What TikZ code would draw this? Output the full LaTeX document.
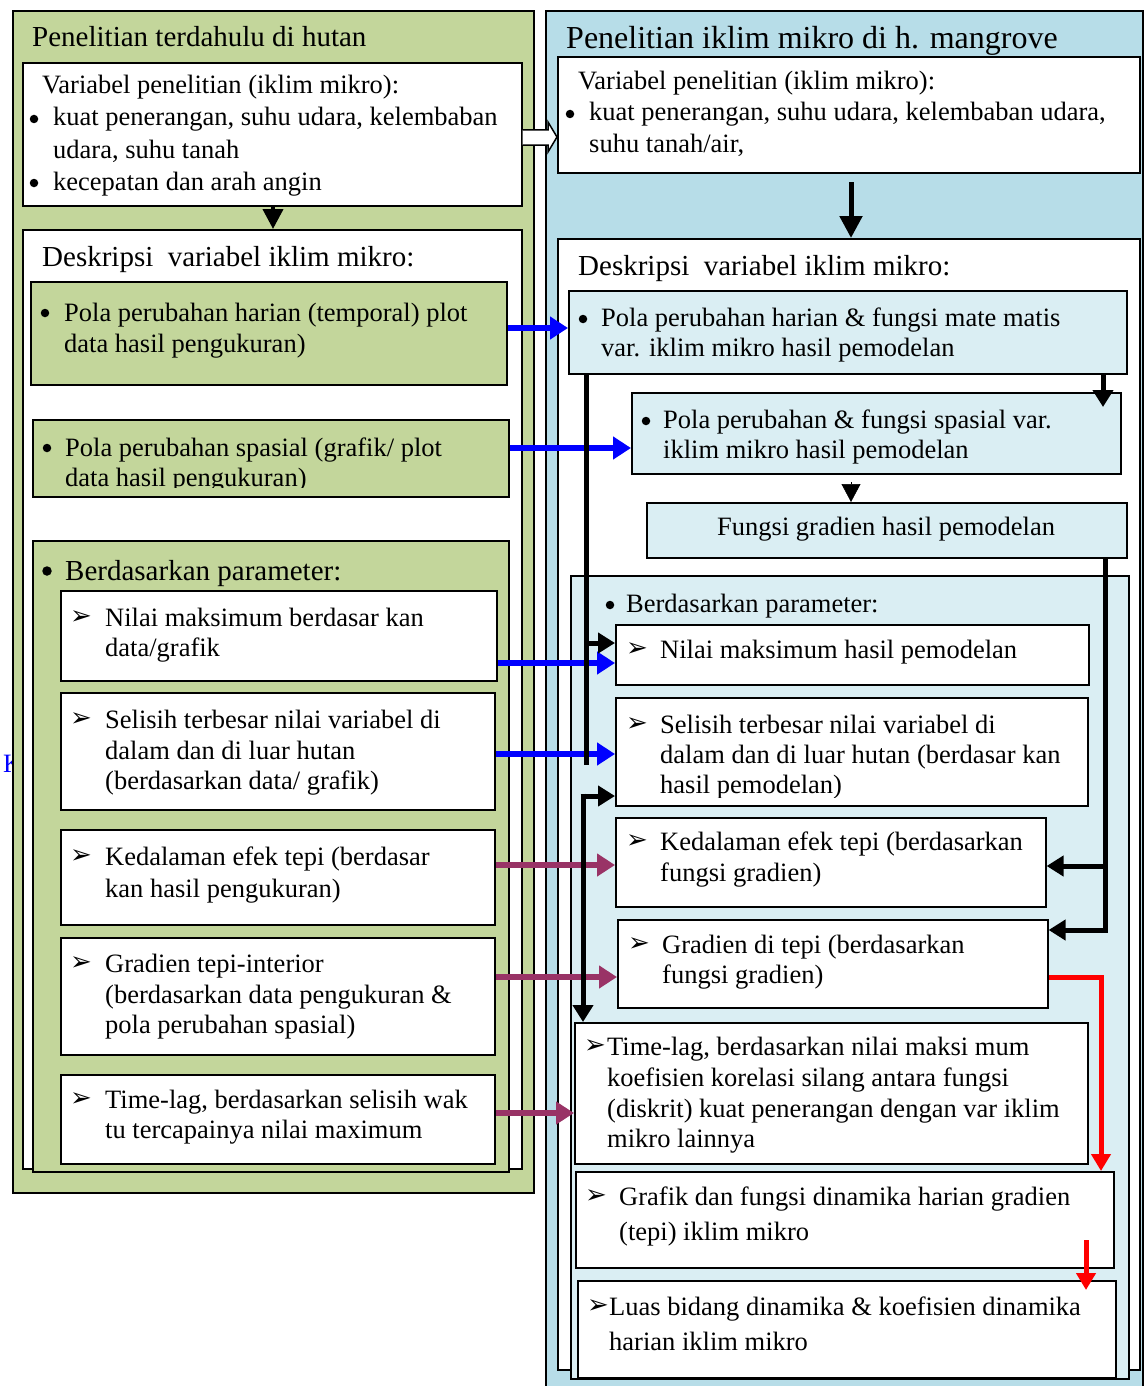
\documentclass[tikz,border=0pt]{standalone}
\usepackage{fontspec}
\setmainfont{Liberation Serif}
\newfontfamily\dejavu{DejaVu Sans}
\usetikzlibrary{arrows.meta}
\definecolor{grn}{HTML}{C3D69B}
\definecolor{pblue}{HTML}{B7DDE8}
\definecolor{lblue}{HTML}{DAEEF3}
\definecolor{plum}{HTML}{993366}
\newcommand\bodyf{\fontsize{26.5}{31}\selectfont}
\newcommand\headf{\fontsize{29}{34}\selectfont}
\newcommand\titf{\fontsize{32}{37}\selectfont}
\newcommand\myarr{\raisebox{2pt}{\dejavu\fontsize{26}{26}\selectfont ➢}}
\newcommand\mybox[6]{\node[#1,anchor=north west,minimum width={#4-#2},minimum height={#5-#3}] (#6) at (#2,#3) {};}
\newcommand\mytx[4]{\node[txt] (#1) at (#2,#3) {#4};}
\newcommand\mybul[3]{\node[bul] (#1) at (#2,#3) {};}
\begin{document}
\begin{tikzpicture}[x=1pt,y=-1pt,
  txt/.style={anchor=base west,inner sep=0pt,font=\bodyf},
  bul/.style={circle,fill=black,inner sep=0pt,minimum size=8.5pt},
  grnbox/.style={draw=black,fill=grn,line width=1.6pt,inner sep=0pt},
  whbox/.style={draw=black,fill=white,line width=1.6pt,inner sep=0pt},
  lbbox/.style={draw=black,fill=lblue,line width=1.6pt,inner sep=0pt},
  pbox/.style={draw=black,fill=pblue,line width=1.6pt,inner sep=0pt},
  bluearr/.style={draw=blue,line width=6pt,-{Triangle[length=18pt,width=22pt]}},
  plumarr/.style={draw=plum,line width=6pt,-{Triangle[length=18pt,width=22pt]}},
  blkln/.style={draw=black,line width=5pt},
  blkarr/.style={draw=black,line width=5pt,-{Triangle[length=17pt,width=20pt]}},
  redarr/.style={draw=red,line width=5pt,-{Triangle[length=17pt,width=19pt]}}]
\useasboundingbox[fill=white] (0,0) rectangle (1145,1386);

\node[txt,text=blue] (strayK) at (3,772) {K};

% ---------------- left panel
\mybox{grnbox}{12}{10}{533}{1192}{Lpanel}
\node[txt,font=\headf] (Ltitle) at (32,47) {Penelitian terdahulu di hutan};
\mybox{whbox}{22}{62}{521}{205}{L1}
\begin{scope}
\clip (22,62) rectangle (521,195);
\mytx{L1a}{42}{94}{Variabel penelitian (iklim mikro):}
\mybul{L1p}{34}{119}
\mytx{L1b}{53}{126}{kuat penerangan, suhu udara, kelembaban}
\mytx{L1c}{53}{158}{udara, suhu tanah}
\mybul{L1q}{34}{183}
\mytx{L1d}{53}{190}{kecepatan dan arah angin}
\end{scope}
\mybox{whbox}{22}{229}{521}{1168}{L2}
\node[txt,font=\headf] (L2t) at (42,266) {Deskripsi~ variabel iklim mikro:};

\mybox{grnbox}{30}{281}{506}{384}{G1}
\mybul{G1p}{45}{313}
\mytx{G1a}{64}{321}{Pola perubahan harian (temporal) plot}
\mytx{G1b}{64}{352}{data hasil pengukuran)}

\mybox{grnbox}{32}{419}{508}{496}{G2}
\begin{scope}
\clip (32,419) rectangle (508,487);
\mybul{G2p}{47}{448}
\mytx{G2a}{65}{456}{Pola perubahan spasial (grafik/ plot}
\mytx{G2b}{65}{486}{data hasil pengukuran)}
\end{scope}

\mybox{grnbox}{32}{540}{508}{1171}{G3}
\node[bul,minimum size=9.5pt] (G3p) at (47,571) {};
\node[txt,font=\headf] (G3t) at (65,580) {Berdasarkan parameter:};

\mybox{whbox}{60}{590}{496}{680}{W1}
\mytx{W1m}{70}{626}{\myarr}
\mytx{W1a}{105}{626}{Nilai maksimum berdasar kan}
\mytx{W1b}{105}{656}{data/grafik}

\mybox{whbox}{60}{692}{494}{809}{W2}
\mytx{W2m}{70}{728}{\myarr}
\mytx{W2a}{105}{728}{Selisih terbesar nilai variabel di}
\mytx{W2b}{105}{759}{dalam dan di luar hutan}
\mytx{W2c}{105}{789}{(berdasarkan data/ grafik)}

\mybox{whbox}{60}{829}{494}{924}{W3}
\mytx{W3m}{70}{865}{\myarr}
\mytx{W3a}{105}{865}{Kedalaman efek tepi (berdasar}
\mytx{W3b}{105}{897}{kan hasil pengukuran)}

\mybox{whbox}{60}{937}{494}{1054}{W4}
\mytx{W4m}{70}{972}{\myarr}
\mytx{W4a}{105}{972}{Gradien tepi-interior}
\mytx{W4b}{105}{1003}{(berdasarkan data pengukuran \&}
\mytx{W4c}{105}{1033}{pola perubahan spasial)}

\mybox{whbox}{60}{1074}{494}{1163}{W5}
\mytx{W5m}{70}{1108}{\myarr}
\mytx{W5a}{105}{1108}{Time-lag, berdasarkan selisih wak}
\mytx{W5b}{105}{1138}{tu tercapainya nilai maximum}

% ---------------- right panel
\mybox{pbox}{545}{10}{1142}{1400}{Rpanel}
\node[txt,font=\titf] (Rtitle) at (566,49) {Penelitian iklim mikro di h. mangrove};
\mybox{whbox}{557}{56}{1139}{172}{R1}
\mytx{R1a}{578}{90}{Variabel penelitian (iklim mikro):}
\mybul{R1p}{570}{114}
\mytx{R1b}{589}{121}{kuat penerangan, suhu udara, kelembaban udara,}
\mytx{R1c}{589}{152}{suhu tanah/air,}

\mybox{whbox}{557}{238}{1139}{1369}{R2}
\node[txt,font=\headf] (R2t) at (578,275) {Deskripsi~ variabel iklim mikro:};

\mybox{lbbox}{568}{290}{1126}{373}{B1}
\mybul{B1p}{583}{319}
\mytx{B1a}{601}{326}{Pola perubahan harian \& fungsi mate matis}
\mytx{B1b}{601}{356}{var. iklim mikro hasil pemodelan}

\mybox{lbbox}{631}{392}{1120}{473}{B2}
\mybul{B2p}{646}{421}
\mytx{B2a}{663}{428}{Pola perubahan \& fungsi spasial var.}
\mytx{B2b}{663}{458}{iklim mikro hasil pemodelan}

\mybox{lbbox}{646}{502}{1126}{557}{B3}
\mytx{B3a}{717}{535}{Fungsi gradien hasil pemodelan}

\mybox{lbbox}{570}{575}{1128}{1378}{B4}
\mybul{B4p}{610}{605}
\mytx{B4a}{626}{612}{Berdasarkan parameter:}

\mybox{whbox}{615}{624}{1088}{684}{N1}
\mytx{N1m}{626}{658}{\myarr}
\mytx{N1a}{660}{658}{Nilai maksimum hasil pemodelan}

\mybox{whbox}{615}{697}{1087}{805}{N2}
\begin{scope}
\clip (615,697) rectangle (1087,797);
\mytx{N2m}{626}{733}{\myarr}
\mytx{N2a}{660}{733}{Selisih terbesar nilai variabel di}
\mytx{N2b}{660}{763}{dalam dan di luar hutan (berdasar kan}
\mytx{N2c}{660}{793}{hasil pemodelan)}
\end{scope}

\mybox{whbox}{615}{817}{1045}{906}{N3}
\mytx{N3m}{626}{850}{\myarr}
\mytx{N3a}{660}{850}{Kedalaman efek tepi (berdasarkan}
\mytx{N3b}{660}{881}{fungsi gradien)}

\mybox{whbox}{617}{919}{1047}{1007}{N4}
\mytx{N4m}{628}{953}{\myarr}
\mytx{N4a}{662}{953}{Gradien di tepi (berdasarkan}
\mytx{N4b}{662}{983}{fungsi gradien)}

\mybox{whbox}{574}{1022}{1087}{1163}{N5}
\mytx{N5m}{584}{1055}{\myarr}
\mytx{N5a}{607}{1055}{Time-lag, berdasarkan nilai maksi mum}
\mytx{N5b}{607}{1086}{koefisien korelasi silang antara fungsi}
\mytx{N5c}{607}{1117}{(diskrit) kuat penerangan dengan var iklim}
\mytx{N5d}{607}{1147}{mikro lainnya}

\mybox{whbox}{575}{1171}{1113}{1267}{N6}
\mytx{N6m}{585}{1205}{\myarr}
\mytx{N6a}{619}{1205}{Grafik dan fungsi dinamika harian gradien}
\mytx{N6b}{619}{1240}{(tepi) iklim mikro}

\mybox{whbox}{577}{1280}{1115}{1377}{N7}
\mytx{N7m}{587}{1315}{\myarr}
\mytx{N7a}{609}{1315}{Luas bidang dinamika \& koefisien dinamika}
\mytx{N7b}{609}{1350}{harian iklim mikro}

% ---------------- connectors
\draw[line width=1.5pt,fill=white] (L1.east |- 0,130) -- (548,130) -- (548,122) -- (R1.west |- 0,137) -- (548,152) -- (548,145) -- (L1.east |- 0,145);

\draw[draw=black,line width=4pt,-{Triangle[length=20pt,width=20pt]}] (L1.south -| 273,0) -- (L2.north -| 273,0);
\coordinate (r1s) at (851,182);
\draw[blkarr,-{Triangle[length=22pt,width=22pt]}] (r1s) -- (r1s |- R2.north);

\draw[bluearr] (G1.east |- 0,328) -- (B1.west |- 0,328);
\draw[bluearr] (G2.east |- 0,448) -- (B2.west |- 0,448);
\draw[bluearr] (W1.east |- 0,663) -- (N1.west |- 0,663);
\draw[bluearr] (W2.east |- 0,754) -- (N2.west |- 0,754);
\draw[plumarr] (W3.east |- 0,865) -- (N3.west |- 0,865);
\draw[plumarr] (W4.east |- 0,977) -- (N4.west |- 0,977);
\draw[plumarr] (W5.east |- 0,1113) -- (N5.west |- 0,1113);

\coordinate (b2in) at (1103,407);
\draw[blkarr] (B1.south -| b2in) -- (b2in);
\draw[-{Triangle[length=18pt,width=19pt]},line width=0.5pt] (851,482) -- (B3.north -| 851,0);

\coordinate (k1) at (586,765);
\draw[blkln] (B1.south -| k1) -- (k1);
\coordinate (j1) at (586,643);
\draw[blkarr] (j1) -- (N1.west |- j1);
\coordinate (j2) at (583,796);
\draw[blkarr] ([xshift=-2.5pt]j2) -- (N2.west |- j2);
\draw[blkarr] ([yshift=2.5pt]j2) -- (j2 |- N5.north);

\coordinate (j3) at (1105,866);
\coordinate (j4) at (1105,930);
\draw[blkarr] (B3.south -| j4) -- (j4) -- (N4.east |- j4);
\draw[blkarr] (j3) -- (N3.east |- j3);

\coordinate (rc) at (1101,977);
\draw[redarr] (N4.east |- rc) -- (rc) -- (rc |- N6.north);
\coordinate (rs) at (1086,1240);
\draw[redarr] (rs) -- (1086,1290);
\end{tikzpicture}
\end{document}
